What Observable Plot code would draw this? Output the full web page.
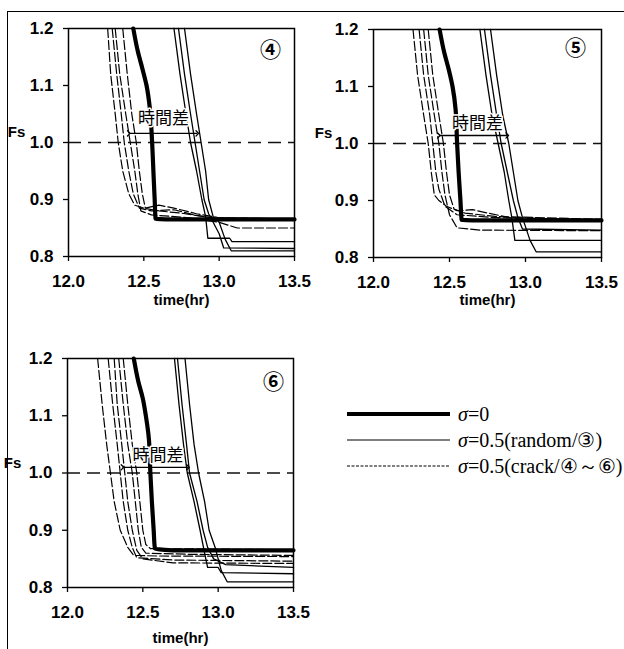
<!DOCTYPE html>
<html>
<head>
<meta charset="utf-8">
<script src="https://cdn.jsdelivr.net/npm/d3@7"></script>
<script src="https://cdn.jsdelivr.net/npm/@observablehq/plot@0.6"></script>
<style>
  html, body { margin: 0; padding: 0; background: white; }
  #chart { position: relative; width: 624px; height: 649px; overflow: hidden; background: white; }
  #chart > svg { position: absolute; }
  #border { position: absolute; left: 7px; top: 11px; width: 700px; height: 700px;
            border-left: 1.5px solid black; border-top: 1.5px solid black; pointer-events: none; }
</style>
</head>
<body>
<div id="chart"><div id="border"></div></div>
<script>
// ---- axis ticks ----
const xTicks = [12.0, 12.5, 13.0, 13.5];
const yTicks = [0.8, 0.9, 1.0, 1.1, 1.2];
const thresholdFs = 1.0;

// ---- panel labels ----
const panelLabels = ["④", "⑤", "⑥"];
const timeDiffLabel = "時間差";
const xLabel = "time(hr)";
const yLabel = "Fs";

// ---- time-difference arrows (start time, end time, Fs level) ----
const arrowStart = [12.40, 12.43, 12.365];
const arrowEnd   = [12.855, 12.88, 12.80];
const arrowFs    = [1.016, 1.014, 1.010];

// ---- panel ④ ----
const p4Sigma0 = [[12.43,1.2],[12.46,1.16],[12.49,1.13],[12.518,1.1],[12.54,1.06],[12.555,1.0],[12.565,0.94],[12.572,0.9],[12.578,0.866],[12.7,0.865],[13.5,0.865]];
const p4Random = [
  [[12.70,1.2],[12.74,1.12],[12.78,1.05],[12.81,1.0],[12.85,0.95],[12.885,0.9],[12.91,0.87],[12.925,0.832],[13.07,0.832],[13.085,0.826],[13.5,0.826]],
  [[12.73,1.2],[12.77,1.12],[12.81,1.05],[12.84,1.0],[12.87,0.95],[12.90,0.9],[12.93,0.875],[12.96,0.86],[13.0,0.84],[13.03,0.815],[13.5,0.814]],
  [[12.77,1.2],[12.81,1.12],[12.85,1.05],[12.88,1.0],[12.91,0.95],[12.93,0.9],[12.96,0.87],[13.0,0.86],[13.04,0.83],[13.08,0.81],[13.5,0.81]]
];
const p4Crack = [
  [[12.26,1.2],[12.28,1.12],[12.31,1.05],[12.33,1.0],[12.36,0.95],[12.40,0.91],[12.44,0.89],[12.50,0.885],[12.6,0.88],[12.75,0.876],[12.95,0.868],[13.5,0.866]],
  [[12.29,1.2],[12.32,1.12],[12.35,1.05],[12.37,1.0],[12.40,0.95],[12.43,0.91],[12.47,0.885],[12.55,0.88],[12.7,0.882],[12.85,0.872],[13.0,0.866],[13.5,0.865]],
  [[12.31,1.2],[12.34,1.12],[12.38,1.05],[12.41,1.0],[12.44,0.95],[12.46,0.91],[12.48,0.88],[12.55,0.873],[12.8,0.868],[13.0,0.86],[13.12,0.85],[13.5,0.85]],
  [[12.36,1.2],[12.39,1.12],[12.42,1.05],[12.45,1.0],[12.47,0.95],[12.49,0.91],[12.51,0.885],[12.6,0.89],[12.7,0.885],[12.85,0.875],[13.0,0.868],[13.5,0.866]]
];

// ---- panel ⑤ ----
const p5Sigma0 = [[12.435,1.2],[12.465,1.16],[12.495,1.13],[12.52,1.1],[12.54,1.06],[12.55,1.0],[12.56,0.95],[12.572,0.9],[12.58,0.866],[12.7,0.865],[13.5,0.865]];
const p5Random = [
  [[12.70,1.2],[12.74,1.12],[12.78,1.05],[12.82,1.0],[12.86,0.95],[12.89,0.9],[12.91,0.87],[12.93,0.83],[13.5,0.83]],
  [[12.73,1.2],[12.77,1.12],[12.81,1.05],[12.84,1.0],[12.88,0.95],[12.92,0.9],[12.95,0.87],[12.98,0.85],[13.5,0.848]],
  [[12.77,1.2],[12.81,1.12],[12.85,1.05],[12.89,1.0],[12.92,0.95],[12.95,0.9],[12.98,0.87],[13.03,0.83],[13.07,0.81],[13.5,0.81]]
];
const p5Crack = [
  [[12.26,1.2],[12.29,1.12],[12.33,1.05],[12.36,1.0],[12.38,0.95],[12.40,0.91],[12.43,0.9],[12.48,0.89],[12.55,0.882],[12.65,0.884],[12.75,0.878],[12.9,0.87],[13.5,0.866]],
  [[12.30,1.2],[12.33,1.12],[12.37,1.05],[12.39,1.0],[12.41,0.95],[12.43,0.92],[12.47,0.89],[12.55,0.875],[12.8,0.87],[13.5,0.866]],
  [[12.33,1.2],[12.36,1.12],[12.40,1.05],[12.43,1.0],[12.45,0.95],[12.47,0.91],[12.50,0.875],[12.55,0.852],[12.7,0.848],[13.5,0.847]],
  [[12.36,1.2],[12.39,1.12],[12.43,1.05],[12.46,1.0],[12.48,0.95],[12.50,0.91],[12.53,0.885],[12.6,0.878],[12.8,0.872],[13.5,0.867]]
];

// ---- panel ⑥ ----
const p6Sigma0 = [[12.44,1.2],[12.47,1.16],[12.50,1.13],[12.52,1.1],[12.54,1.06],[12.55,1.0],[12.56,0.95],[12.572,0.9],[12.58,0.868],[12.7,0.865],[13.5,0.865]];
const p6Random = [
  [[12.71,1.2],[12.74,1.12],[12.77,1.05],[12.795,1.0],[12.84,0.95],[12.88,0.9],[12.91,0.86],[12.93,0.835],[13.0,0.835],[13.02,0.826],[13.5,0.824]],
  [[12.73,1.2],[12.76,1.12],[12.79,1.05],[12.81,1.0],[12.86,0.95],[12.90,0.9],[12.93,0.87],[12.97,0.85],[13.05,0.84],[13.5,0.835]],
  [[12.78,1.2],[12.81,1.12],[12.84,1.05],[12.87,1.0],[12.91,0.95],[12.94,0.9],[12.98,0.87],[13.02,0.83],[13.06,0.81],[13.5,0.81]]
];
const p6Crack = [
  [[12.20,1.2],[12.23,1.12],[12.26,1.05],[12.285,1.0],[12.31,0.95],[12.35,0.9],[12.40,0.87],[12.44,0.856],[12.6,0.855],[13.5,0.854]],
  [[12.27,1.2],[12.30,1.12],[12.33,1.05],[12.35,1.0],[12.37,0.95],[12.40,0.9],[12.43,0.87],[12.46,0.852],[12.7,0.848],[13.5,0.846]],
  [[12.31,1.2],[12.33,1.12],[12.36,1.05],[12.38,1.0],[12.40,0.95],[12.43,0.9],[12.46,0.865],[12.5,0.85],[12.7,0.843],[13.5,0.842]],
  [[12.34,1.2],[12.37,1.12],[12.40,1.05],[12.43,1.0],[12.45,0.95],[12.47,0.9],[12.49,0.87],[12.52,0.86],[12.8,0.858],[13.5,0.856]],
  [[12.37,1.2],[12.40,1.12],[12.43,1.05],[12.46,1.0],[12.48,0.95],[12.50,0.9],[12.52,0.875],[12.55,0.868],[13.5,0.866]]
];

// ---- legend ----
const legendLabels = [["σ", "=0"], ["σ", "=0.5(random/③)"], ["σ", "=0.5(crack/④～⑥)"]];

// ---------------------------------------------------------------
function rows(seriesList) {
  const out = [];
  seriesList.forEach((s, i) => s.forEach(([t, fs]) => out.push({id: i, t, fs})));
  return out;
}

const chart = document.getElementById("chart");
const border = document.getElementById("border");

function panel(idx, sigma0, random, crack, cfg) {
  const svg = Plot.plot({
    width: cfg.width, height: cfg.height,
    marginLeft: cfg.ml, marginRight: cfg.mr, marginTop: cfg.mt, marginBottom: cfg.mb,
    style: {fontFamily: "'Liberation Sans', Arial, sans-serif", fontSize: "17px", fontWeight: "bold", background: "transparent", color: "black", overflow: "visible"},
    x: {domain: [12, 13.5]},
    y: {domain: [0.8, 1.2]},
    marks: [
      Plot.axisX({ticks: xTicks, tickFormat: d3.format(".1f"), tickSize: 5, tickPadding: 13, label: null, strokeWidth: 1.3}),
      Plot.axisY({ticks: yTicks, tickFormat: d3.format(".1f"), tickSize: 5, tickPadding: 10, label: null, strokeWidth: 1.3}),
      Plot.ruleY([thresholdFs], {stroke: "#111", strokeWidth: 1.6, strokeDasharray: "13,7"}),
      Plot.line(rows(crack), {x: "t", y: "fs", z: "id", stroke: "black", strokeWidth: 1.2, strokeDasharray: "9,3"}),
      Plot.line(rows(random), {x: "t", y: "fs", z: "id", stroke: "black", strokeWidth: 1.3}),
      Plot.line(sigma0, {x: d => d[0], y: d => d[1], stroke: "black", strokeWidth: 4.2, curve: "monotone-y"}),
      Plot.text([timeDiffLabel], {x: () => cfg.tdx, y: () => cfg.tdy, fontFamily: "'Noto Sans CJK JP', sans-serif", fontWeight: "normal", fontSize: 17, stroke: "white", strokeWidth: 3, fill: "black"}),
      Plot.link([0], {x1: () => arrowStart[idx], x2: () => arrowEnd[idx], y1: () => arrowFs[idx], y2: () => arrowFs[idx], stroke: "black", strokeWidth: 1.3, markerStart: "arrow", markerEnd: "arrow"}),
      Plot.frame({stroke: "black", strokeWidth: 1.5}),
      Plot.text([panelLabels[idx]], {frameAnchor: "top-right", dx: cfg.cdx, dy: cfg.cdy, fontFamily: "'Noto Sans CJK JP', sans-serif", fontWeight: "bold", fontSize: 21, lineAnchor: "middle", textAnchor: "middle"}),
      Plot.text([yLabel], {frameAnchor: "left", y: () => cfg.fsY, dx: cfg.fsDx, fontSize: 15, textAnchor: "middle"}),
      Plot.text([xLabel], {frameAnchor: "bottom", dy: cfg.xlDy, fontSize: 15, lineAnchor: "middle"})
    ]
  });
  svg.style.left = cfg.left + "px";
  svg.style.top = cfg.top + "px";
  chart.insertBefore(svg, border);
}

panel(0, p4Sigma0, p4Random, p4Crack, {left: 0, top: 0, width: 310, height: 320, ml: 68, mr: 16, mt: 28, mb: 64,
  tdx: 12.63, tdy: 1.042, cdx: -24, cdy: 22, fsY: 1.0175, fsDx: -52, xlDy: 44});
panel(1, p5Sigma0, p5Random, p5Crack, {left: 300, top: 0, width: 324, height: 320, ml: 73, mr: 23, mt: 29, mb: 63,
  tdx: 12.684, tdy: 1.035, cdx: -26, cdy: 19, fsY: 1.0175, fsDx: -50, xlDy: 43});
panel(2, p6Sigma0, p6Random, p6Crack, {left: 0, top: 320, width: 310, height: 329, ml: 67, mr: 17, mt: 38, mb: 62,
  tdx: 12.60, tdy: 1.03, cdx: -20, cdy: 24, fsY: 1.017, fsDx: -55, xlDy: 51});

// ---- legend ----
const leg = d3.create("svg").attr("width", 294).attr("height", 100)
  .style("left", "330px").style("top", "390px").style("background", "transparent");
const styles = [
  {w: 4, dash: null},
  {w: 1.2, dash: null},
  {w: 1.2, dash: "3,1.5"}
];
legendLabels.forEach(([sym, rest], i) => {
  const y = 24 + i * 26;
  leg.append("line").attr("x1", 17).attr("x2", 120).attr("y1", y).attr("y2", y)
    .attr("stroke", "black").attr("stroke-width", styles[i].w)
    .attr("stroke-dasharray", styles[i].dash);
  const t = leg.append("text").attr("x", 128).attr("y", y).attr("dy", "0.35em")
    .attr("font-family", "'Liberation Serif', 'Times New Roman', serif").attr("font-size", 20);
  t.append("tspan").attr("font-style", "italic").text(sym);
  t.append("tspan").text(rest);
});
chart.insertBefore(leg.node(), border);
</script>
</body>
</html>
